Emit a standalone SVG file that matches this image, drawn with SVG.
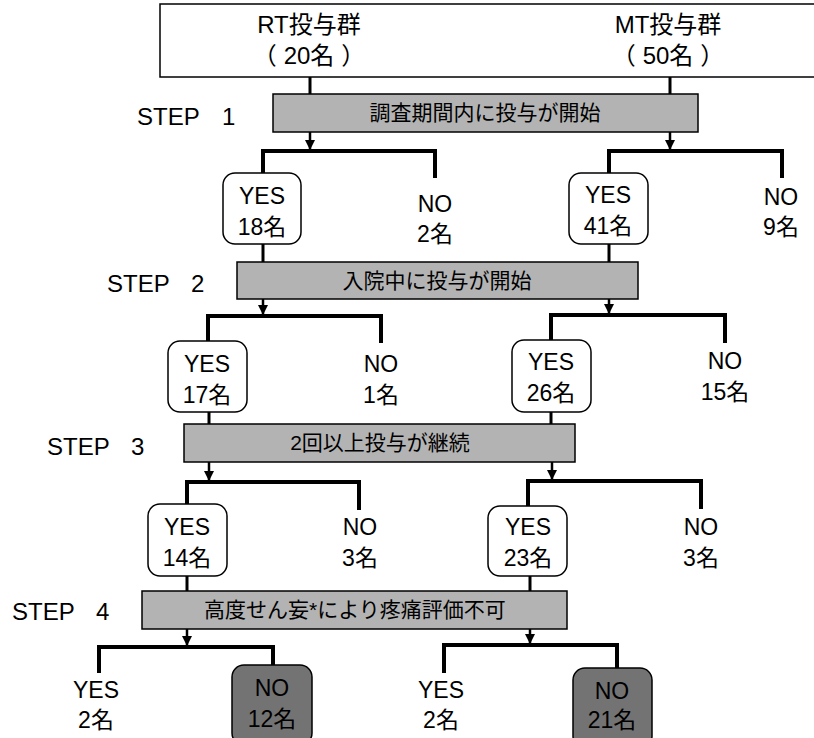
<svg xmlns="http://www.w3.org/2000/svg" width="814" height="738" viewBox="0 0 814 738">
<defs>
<style>
text{font-family:"Liberation Sans","Noto Sans CJK JP",sans-serif;fill:#000;text-anchor:middle}
.t{font-size:24px}
.n{font-size:23px}
.s{font-size:21px}
.lbl{font-size:24px;text-anchor:start}
.step{fill:#b3b3b3;stroke:#000;stroke-width:1.5}
.yes{fill:#fff;stroke:#000;stroke-width:1.5}
.no{fill:#737373;stroke:#000;stroke-width:1.5}
.br{fill:none;stroke:#000;stroke-width:4;stroke-linejoin:miter}
.ln{stroke:#000;stroke-width:3}
.ar{stroke:#000;stroke-width:2.5;marker-end:url(#ah)}
</style>
<marker id="ah" viewBox="0 0 10 10" refX="10" refY="5" markerWidth="4.4" markerHeight="4" orient="auto" markerUnits="strokeWidth">
<path d="M0,0 L10,5 L0,10 z" fill="#000"/>
</marker>
</defs>
<rect width="814" height="738" fill="#fff"/>

<g id="connectors">
<line class="ln" x1="310" y1="77" x2="310" y2="94"/>
<line class="ln" x1="670" y1="77" x2="670" y2="94"/>
<line class="ar" x1="310" y1="132" x2="310" y2="150"/>
<line class="ar" x1="670" y1="132" x2="670" y2="150"/>
<path class="br" d="M263,173 V151 H435 V178"/>
<path class="br" d="M609,173 V151 H782 V178"/>
<line class="ln" x1="263" y1="244" x2="263" y2="262"/>
<line class="ln" x1="609" y1="244" x2="609" y2="262"/>
<line class="ar" x1="263" y1="299" x2="263" y2="315"/>
<line class="ar" x1="609" y1="299" x2="609" y2="314"/>
<path class="br" d="M208,341 V316 H381 V343"/>
<path class="br" d="M551,340 V315 H725 V343"/>
<line class="ln" x1="209" y1="412" x2="209" y2="424"/>
<line class="ln" x1="551" y1="412" x2="551" y2="424"/>
<line class="ar" x1="209" y1="462" x2="209" y2="481"/>
<line class="ar" x1="552" y1="462" x2="552" y2="480"/>
<path class="br" d="M187,504 V482 H359 V510"/>
<path class="br" d="M528,506 V481 H701 V509"/>
<line class="ln" x1="187" y1="576" x2="187" y2="591"/>
<line class="ln" x1="530" y1="576" x2="530" y2="591"/>
<line class="ar" x1="187" y1="629" x2="187" y2="646"/>
<line class="ar" x1="530" y1="629" x2="530" y2="644"/>
<path class="br" d="M99,673 V647 H273 V665"/>
<path class="br" d="M444,673 V645 H617 V668"/>
</g>

<g id="groups">
<rect x="160" y="4" width="670" height="73" fill="#fff" stroke="#000" stroke-width="1.5"/>
<text class="t" x="309" y="33">RT投与群</text>
<text class="t" x="309" y="64">（<tspan dx="7">20名</tspan><tspan dx="7">）</tspan></text>
<text class="t" x="668" y="33">MT投与群</text>
<text class="t" x="668" y="64">（<tspan dx="7">50名</tspan><tspan dx="7">）</tspan></text>
</g>

<g id="step1">
<text class="lbl" x="137" y="125">STEP<tspan x="222">1</tspan></text>
<rect class="step" x="273" y="94" width="425" height="38"/>
<text class="s" x="485" y="120">調査期間内に投与が開始</text>
</g>
<g id="s1-rt-yes">
<rect class="yes" x="223" y="173" width="78" height="71" rx="12"/>
<text class="n" x="262" y="204">YES</text>
<text class="n" x="262" y="235">18名</text>
</g>
<g id="s1-rt-no">
<text class="n" x="435" y="212">NO</text>
<text class="n" x="435" y="242">2名</text>
</g>
<g id="s1-mt-yes">
<rect class="yes" x="569" y="173" width="79" height="71" rx="12"/>
<text class="n" x="608" y="203">YES</text>
<text class="n" x="608" y="234">41名</text>
</g>
<g id="s1-mt-no">
<text class="n" x="781" y="205">NO</text>
<text class="n" x="781" y="235">9名</text>
</g>

<g id="step2">
<text class="lbl" x="107" y="292">STEP<tspan x="191">2</tspan></text>
<rect class="step" x="237" y="262" width="401" height="37"/>
<text class="s" x="437" y="288">入院中に投与が開始</text>
</g>
<g id="s2-rt-yes">
<rect class="yes" x="168" y="341" width="79" height="71" rx="12"/>
<text class="n" x="207" y="372">YES</text>
<text class="n" x="207" y="403">17名</text>
</g>
<g id="s2-rt-no">
<text class="n" x="381" y="372">NO</text>
<text class="n" x="381" y="403">1名</text>
</g>
<g id="s2-mt-yes">
<rect class="yes" x="512" y="340" width="79" height="72" rx="12"/>
<text class="n" x="551" y="370">YES</text>
<text class="n" x="551" y="401">26名</text>
</g>
<g id="s2-mt-no">
<text class="n" x="725" y="369">NO</text>
<text class="n" x="725" y="400">15名</text>
</g>

<g id="step3">
<text class="lbl" x="47" y="455">STEP<tspan x="131">3</tspan></text>
<rect class="step" x="184" y="424" width="391" height="38"/>
<text class="s" x="380" y="450">2回以上投与が継続</text>
</g>
<g id="s3-rt-yes">
<rect class="yes" x="148" y="504" width="79" height="72" rx="12"/>
<text class="n" x="187" y="535">YES</text>
<text class="n" x="187" y="566">14名</text>
</g>
<g id="s3-rt-no">
<text class="n" x="360" y="535">NO</text>
<text class="n" x="360" y="566">3名</text>
</g>
<g id="s3-mt-yes">
<rect class="yes" x="488" y="506" width="79" height="70" rx="12"/>
<text class="n" x="528" y="535">YES</text>
<text class="n" x="528" y="566">23名</text>
</g>
<g id="s3-mt-no">
<text class="n" x="701" y="535">NO</text>
<text class="n" x="701" y="566">3名</text>
</g>

<g id="step4">
<text class="lbl" x="12" y="620">STEP<tspan x="96">4</tspan></text>
<rect class="step" x="142" y="591" width="425" height="38"/>
<text class="s" x="355" y="617">高度せん妄*により疼痛評価不可</text>
</g>
<g id="s4-rt-yes">
<text class="n" x="96" y="698">YES</text>
<text class="n" x="96" y="728">2名</text>
</g>
<g id="s4-rt-no">
<rect class="no" x="232" y="665" width="80" height="80" rx="12"/>
<text class="n" x="272" y="696">NO</text>
<text class="n" x="272" y="727">12名</text>
</g>
<g id="s4-mt-yes">
<text class="n" x="441" y="698">YES</text>
<text class="n" x="441" y="728">2名</text>
</g>
<g id="s4-mt-no">
<rect class="no" x="573" y="668" width="79" height="80" rx="12"/>
<text class="n" x="612" y="699">NO</text>
<text class="n" x="612" y="728">21名</text>
</g>
</svg>
